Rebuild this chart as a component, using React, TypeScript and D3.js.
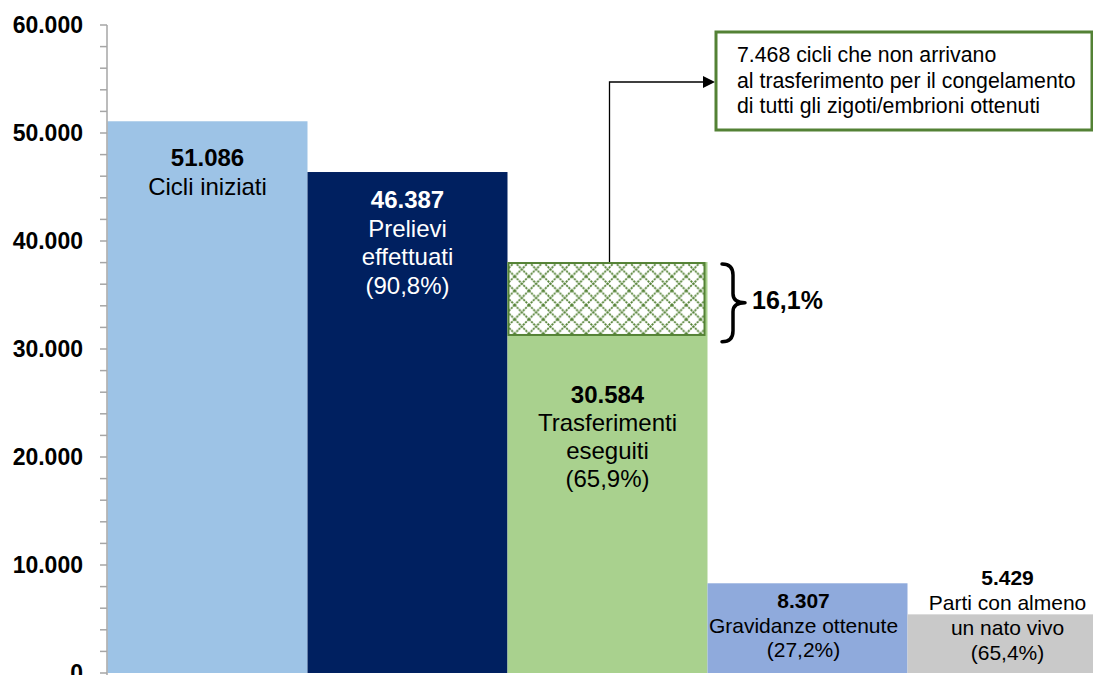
import React from "react";
import * as d3 from "d3";

// ---- data ----
const categories = [
  "Cicli iniziati",
  "Prelievi effettuati",
  "Trasferimenti eseguiti",
  "Gravidanze ottenute",
  "Parti con almeno un nato vivo",
];
const values = [51086, 46387, 30584, 8307, 5429];
const valueLabels = ["51.086", "46.387", "30.584", "8.307", "5.429"];
const nameLines = [
  ["Cicli iniziati"],
  ["Prelievi", "effettuati"],
  ["Trasferimenti", "eseguiti"],
  ["Gravidanze ottenute"],
  ["Parti con almeno", "un nato vivo"],
];
const percentLabels = ["", "(90,8%)", "(65,9%)", "(27,2%)", "(65,4%)"];
const yTicks = [0, 10000, 20000, 30000, 40000, 50000, 60000];
const yTickLabels = ["0", "10.000", "20.000", "30.000", "40.000", "50.000", "60.000"];
const freezeAllCycles = 7468; // cycles not reaching transfer (freeze-all)
const hatchBottomValue = 31300; // where the hatched box ends, as drawn
const freezeShareLabel = "16,1%";
const noteLines = [
  "7.468 cicli che non arrivano",
  "al trasferimento per il congelamento",
  "di tutti gli zigoti/embrioni ottenuti",
];

// ---- styles / layout ----
const W = 1093;
const H = 675;
const FONT = "'Liberation Sans', Arial, Helvetica, sans-serif";
const barColors = ["#9DC3E6", "#002060", "#A9D18E", "#8FAADC", "#C9C9C9"];
const textColors = ["#000", "#fff", "#000", "#000", "#000"];
const labelFont = [24, 24, 24, 21, 21];
const labelLineH = [29, 28.5, 28, 24.5, 25];
const labelOffset = [45, 36, 140.5, 25, -29]; // first baseline relative to bar top
const labelDx = [0, 0, 0, -4, 0];

export default function App() {
  const y = d3.scaleLinear().domain([0, 60000]).range([673, 25]);
  const x = d3
    .scaleBand<string>()
    .domain(categories)
    .range([107.5, 1107.5])
    .padding(0);
  const minorTicks = d3.range(0, 60001, 2000);

  const b3 = categories[2];
  const b3x = x(b3)!;
  const bw = x.bandwidth();
  const b3Top = y(values[2] + freezeAllCycles);
  const hatchBottom = y(hatchBottomValue);
  const b3Mid = b3x + bw / 2 + 2;

  // bracket
  const br = { x0: 722, xm: 733, xp: 745, y1: y(values[2] + freezeAllCycles) + 2, y2: y(values[2]) - 1 };
  const ym = (br.y1 + br.y2) / 2;
  const bracePath = `M${br.x0},${br.y1} Q${br.xm},${br.y1} ${br.xm},${br.y1 + 11} L${br.xm},${ym - 9} Q${br.xm},${ym} ${br.xp},${ym} Q${br.xm},${ym} ${br.xm},${ym + 9} L${br.xm},${br.y2 - 11} Q${br.xm},${br.y2} ${br.x0},${br.y2}`;

  const boxX = 716, boxY = 32, boxW = 376, boxH = 98;
  const arrowY = 82;
  const P = 14.3;

  return (
    <svg
      width={W}
      height={H}
      style={{ position: "absolute", left: 0, top: 0, background: "#fff" }}
      fontFamily={FONT}
    >
      <defs>
        <pattern
          id="diamond"
          patternUnits="userSpaceOnUse"
          width={P}
          height={P}
          x={b3x + P / 2}
          y={b3Top}
        >
          <rect width={P} height={P} fill="#fff" />
          <path
            d={`M0,0 L${P},${P} M${P},0 L0,${P}`}
            stroke="#548235"
            strokeWidth={1.8}
            strokeDasharray="2.2 0.9"
          />
        </pattern>
      </defs>

      {/* bars */}
      {categories.map((c, i) => {
        const top = i === 2 ? y(values[i] + freezeAllCycles) : y(values[i]);
        return (
          <rect
            key={c}
            x={x(c)!}
            y={top}
            width={bw}
            height={y(0) - top}
            fill={barColors[i]}
          />
        );
      })}

      {/* hatched part of the transfer bar */}
      <rect
        x={b3x + 1}
        y={b3Top + 1}
        width={bw - 4}
        height={hatchBottom - b3Top - 1}
        fill="url(#diamond)"
        stroke="#548235"
        strokeWidth={2}
      />

      {/* y axis */}
      <line x1={107} x2={107} y1={y(60000)} y2={H} stroke="#A6A6A6" strokeWidth={1.5} />
      {minorTicks.map((t) => (
        <line key={t} x1={100} x2={107} y1={y(t)} y2={y(t)} stroke="#A6A6A6" strokeWidth={1.5} />
      ))}
      {yTicks.map((t, i) => (
        <text
          key={t}
          x={83}
          y={y(t) + 8}
          textAnchor="end"
          fontSize={23}
          fontWeight="bold"
          fill="#000"
        >
          {yTickLabels[i]}
        </text>
      ))}

      {/* bar labels */}
      {categories.map((c, i) => {
        const top = i === 2 ? y(values[i] + freezeAllCycles) : y(values[i]);
        const cx = x(c)! + bw / 2 + labelDx[i];
        const base = top + labelOffset[i];
        const lines = [...nameLines[i], ...(percentLabels[i] ? [percentLabels[i]] : [])];
        return (
          <g key={c} fill={textColors[i]} fontSize={labelFont[i]} textAnchor="middle">
            <text x={cx} y={base} fontWeight="bold">
              {valueLabels[i]}
            </text>
            {lines.map((l, j) => (
              <text key={j} x={cx} y={base + (j + 1) * labelLineH[i]}>
                {l}
              </text>
            ))}
          </g>
        );
      })}

      {/* bracket and share */}
      <path d={bracePath} fill="none" stroke="#000" strokeWidth={3.5} strokeLinecap="round" strokeLinejoin="round" />
      <text x={752} y={309} fontSize={25} fontWeight="bold" fill="#000">
        {freezeShareLabel}
      </text>

      {/* connector arrow */}
      <path
        d={`M${b3Mid},${b3Top} L${b3Mid},${arrowY} L${boxX - 11},${arrowY}`}
        fill="none"
        stroke="#000"
        strokeWidth={1.3}
      />
      <path
        d={`M${boxX - 1},${arrowY} L${boxX - 13},${arrowY - 6} L${boxX - 13},${arrowY + 6} Z`}
        fill="#000"
      />

      {/* note box */}
      <rect x={boxX} y={boxY} width={boxW} height={boxH} fill="#fff" stroke="#538135" strokeWidth={3} />
      {noteLines.map((l, j) => (
        <text key={j} x={737} y={62 + j * 25.5} fontSize={21.3} fill="#000">
          {l}
        </text>
      ))}
    </svg>
  );
}
